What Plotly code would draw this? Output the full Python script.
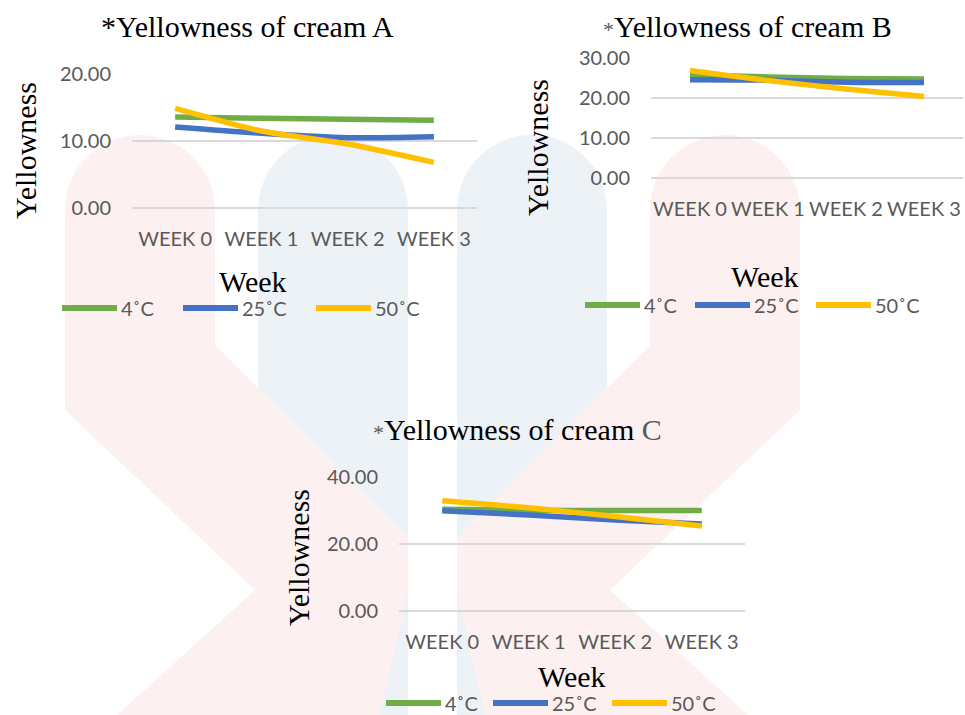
import plotly.graph_objects as go

# ---- data -------------------------------------------------------------
weeks = ["WEEK 0", "WEEK 1", "WEEK 2", "WEEK 3"]
temps = ["4˚C", "25˚C", "50˚C"]
colors = ["#70AD47", "#4472C4", "#FFC000"]

cream_a_4c = [13.6, 13.4, 13.25, 13.1]
cream_a_25c = [12.1, 11.15, 10.5, 10.65]
cream_a_50c = [14.9, 11.5, 9.55, 6.8]

cream_b_4c = [25.7, 25.2, 24.8, 24.7]
cream_b_25c = [24.5, 24.4, 23.9, 23.8]
cream_b_50c = [26.8, 24.3, 22.2, 20.3]

cream_c_4c = [30.3, 30.0, 29.9, 29.9]
cream_c_25c = [29.8, 28.6, 27.1, 25.9]
cream_c_50c = [32.8, 30.7, 28.1, 25.3]

y_ranges = [[0, 20], [0, 30], [0, 40]]
y_dticks = [10, 10, 20]

W, H = 965, 715
SERIF = "Liberation Serif, Times New Roman, serif"
SANS = "Lato, Open Sans, sans-serif"
GREY = "#595959"


def px(x):
    return x / W


def py(y):
    return 1 - y / H


panels = [
    dict(series=[cream_a_4c, cream_a_25c, cream_a_50c],
         box=(132, 74.3, 477, 207.7),
         title="*Yellowness of cream A", title_xy=(247, 27),
         ytitle_xy=(26, 151), xtitle_xy=(253, 281),
         legend_y=308, legend_x=[62, 183, 316]),
    dict(series=[cream_b_4c, cream_b_25c, cream_b_50c],
         box=(651, 57.7, 963, 178),
         title=f"<span style='color:{GREY};font-size:22px'>*</span>Yellowness of cream B",
         title_xy=(747, 27),
         ytitle_xy=(537, 148), xtitle_xy=(765, 276),
         legend_y=305, legend_x=[585, 695, 816]),
    dict(series=[cream_c_4c, cream_c_25c, cream_c_50c],
         box=(399, 476.7, 745, 610.7),
         title=f"<span style='color:{GREY};font-size:22px'>*</span>Yellowness of cream "
               f"<span style='color:{GREY}'>C</span>",
         title_xy=(517, 429),
         ytitle_xy=(298, 558), xtitle_xy=(572, 676),
         legend_y=703, legend_x=[386, 493, 612]),
]

fig = go.Figure()
layout = dict(width=W, height=H, autosize=False,
              margin=dict(l=0, r=0, t=0, b=0, pad=0, autoexpand=False),
              paper_bgcolor="white", plot_bgcolor="rgba(0,0,0,0)",
              showlegend=False)
annotations = []
shapes = []

# ---- faint background logo --------------------------------------------
BLUE_BG = "rgb(237,242,247)"
PINK_BG = "rgb(253,240,240)"


def to_path(cmds):
    out = []
    for c, pts in cmds:
        out.append(c + " ".join(f"{px(x):.5f},{py(y):.5f}" for x, y in pts))
    return " ".join(out) + " Z"


def round_top(x0, x1, top):
    r = (x1 - x0) / 2
    cx, cy, k = x0 + r, top + r, 0.5523
    return [("C", [(x0, cy - k * r), (cx - k * r, top), (cx, top)]),
            ("C", [(cx + k * r, top), (x1, cy - k * r), (x1, cy)])]


for x0, x1 in [(258, 408), (457, 607)]:
    cmds = [("M", [(x0, H)]), ("L", [(x0, 210)])] + round_top(x0, x1, 135) + \
           [("L", [(x1, H)])]
    shapes.append(dict(type="path", xref="paper", yref="paper", path=to_path(cmds),
                       fillcolor=BLUE_BG, line=dict(width=0), layer="below"))

arm_side = [(215, 345), (408, 538), (408, 590), (380, H), (117, H), (255, 590)]
mx = lambda p: (865 - p[0], p[1])
cmdsL = [("M", [(65, 410)]), ("L", [(65, 210)])] + round_top(65, 215, 135) + \
        [("L", [p]) for p in arm_side]
cmdsR = [("M", [mx((65, 410))]), ("L", [mx((65, 210))])] + \
        [(c, [mx(p) for p in pts]) for c, pts in round_top(65, 215, 135)] + \
        [("L", [mx(p)]) for p in arm_side]
for cmds in (cmdsL, cmdsR):
    shapes.append(dict(type="path", xref="paper", yref="paper", path=to_path(cmds),
                       fillcolor=PINK_BG, line=dict(width=0), layer="below"))

# ---- panels -----------------------------------------------------------
for i, p in enumerate(panels):
    n = "" if i == 0 else str(i + 1)
    xa, ya = "x" + n, "y" + n
    for name, vals, col in zip(temps, p["series"], colors):
        fig.add_trace(go.Scatter(
            x=weeks, y=vals, name=name, mode="lines",
            line=dict(color=col, width=5.5, shape="spline", smoothing=0.7),
            xaxis=xa, yaxis=ya, hoverinfo="x+y+name"))
    x0, y0, x1, y1 = p["box"]
    layout["xaxis" + n] = dict(
        domain=[px(x0), px(x1)], anchor=ya, type="category", automargin=False,
        categoryorder="array", categoryarray=weeks, range=[-0.5, 3.5],
        showgrid=False, zeroline=False, showline=False, ticks="",
        ticklabelstandoff=17,
        tickfont=dict(family=SANS, size=20, color=GREY))
    layout["yaxis" + n] = dict(
        domain=[py(y1), py(y0)], anchor=xa, range=y_ranges[i], automargin=False,
        dtick=y_dticks[i], tickformat=".2f",
        showgrid=True, gridcolor="#D9D9D9", gridwidth=1.5,
        zeroline=True, zerolinecolor="#D9D9D9", zerolinewidth=1.5,
        showline=False, ticks="", ticklabelstandoff=20,
        tickfont=dict(family=SANS, size=20, color=GREY))

    tx, ty = p["title_xy"]
    annotations.append(dict(text=p["title"], x=px(tx), y=py(ty), xref="paper",
                            yref="paper", showarrow=False, xanchor="center",
                            yanchor="middle",
                            font=dict(family=SERIF, size=30, color="black")))
    ax_, ay_ = p["ytitle_xy"]
    annotations.append(dict(text="Yellowness", x=px(ax_), y=py(ay_), xref="paper",
                            yref="paper", showarrow=False, textangle=-90,
                            xanchor="center", yanchor="middle",
                            font=dict(family=SERIF, size=30, color="black")))
    wx, wy = p["xtitle_xy"]
    annotations.append(dict(text="Week", x=px(wx), y=py(wy), xref="paper",
                            yref="paper", showarrow=False, xanchor="center",
                            yanchor="middle", height=30,
                            font=dict(family=SERIF, size=30, color="black")))
    # legend: coloured key line followed by its label
    ly = p["legend_y"]
    for name, col, lx in zip(temps, colors, p["legend_x"]):
        shapes.append(dict(type="line", xref="paper", yref="paper",
                           x0=px(lx), x1=px(lx + 55), y0=py(ly), y1=py(ly),
                           line=dict(color=col, width=6)))
        annotations.append(dict(text=name, x=px(lx + 57), y=py(ly),
                                xref="paper", yref="paper", showarrow=False,
                                xanchor="left", yanchor="middle", height=20,
                                font=dict(family=SANS, size=20, color=GREY)))

layout["annotations"] = annotations
layout["shapes"] = shapes
fig.update_layout(**layout)
fig.write_html("out.html")
